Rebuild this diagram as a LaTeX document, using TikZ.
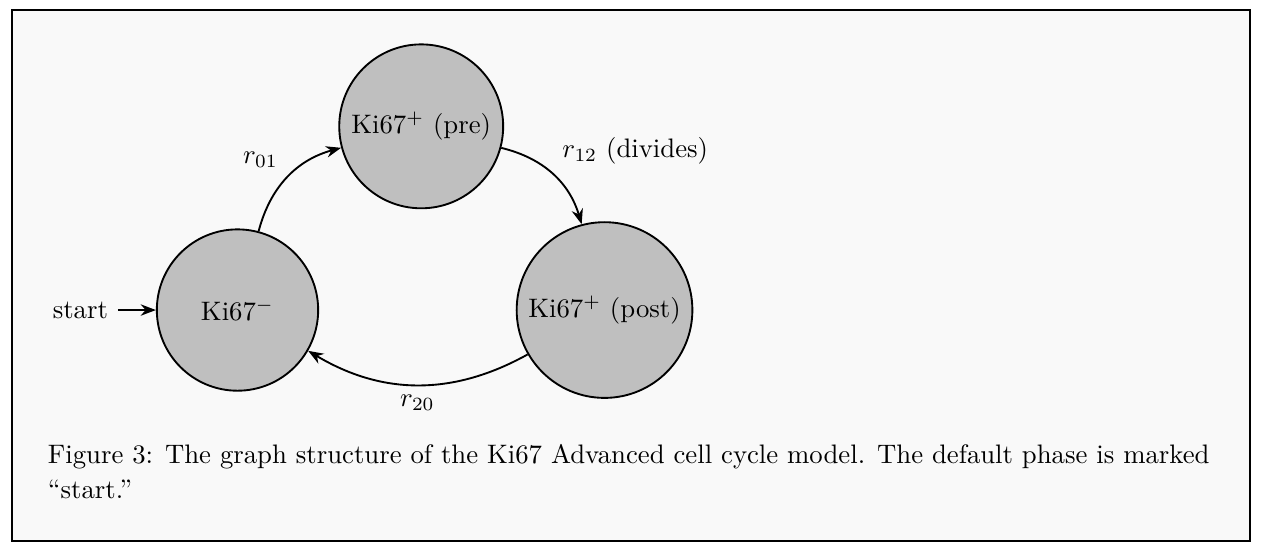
\documentclass[tikz,border=0pt]{standalone}
\usepackage{amsmath}
\usetikzlibrary{arrows.meta}
\usetikzlibrary{positioning}
\definecolor{panelbg}{HTML}{F9F9F9}
\definecolor{phasefill}{HTML}{BFBFBF}
\tikzset{
	phase/.style={shape=circle,draw,fill=phasefill,minimum size=2.12cm},
	trans/.style={-{Stealth[length=2mm,width=1.5mm]}},
}
\begin{document}
\begin{tikzpicture}[line width=0.7pt]
	\useasboundingbox (-3.121,-3.180) rectangle (13.489,4.074);
	\draw[fill=panelbg] (-2.963,-3.035) rectangle (13.305,3.942);
	\node (minus) [phase] at (0,0) {Ki67$^-$};
	\node (pre) [phase] at (2.414,2.414) {Ki67$^+$ (pre)};
	\node (post) [phase] at (4.823,0) {Ki67$^+$ (post)};
	\node (start) [left=0.5cm of minus] {start};
	\draw[trans] (start) -- (minus);
	\draw[trans] (minus) to[bend left] node (r01) [above left] {$r_{01}$} (pre);
	\draw[trans] (pre) to[bend left] node (r12) [above right] {$r_{12}$ (divides)} (post);
	\draw[trans] (post) to[bend left] node (r20) [below] {$r_{20}$} (minus);
	\node (caption) [anchor=base west,text width=434.8pt,align=justify,inner sep=0pt] at (-2.503,-2.011)
		{Figure 3: The graph structure of the Ki67 Advanced cell cycle model. The default phase is marked\\[1.2pt]``start.''};
\end{tikzpicture}
\end{document}
